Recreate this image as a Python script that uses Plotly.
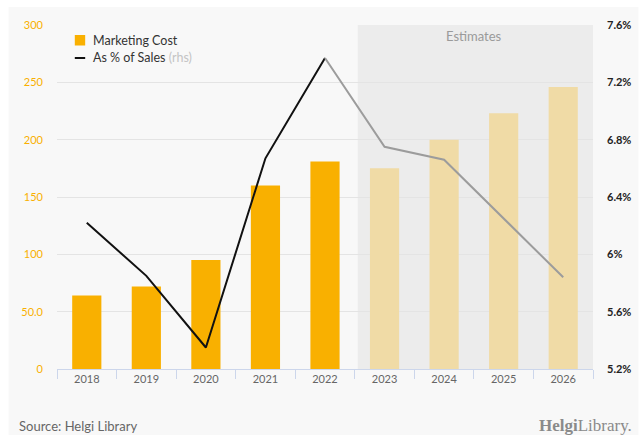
import plotly.graph_objects as go

# Marketing cost (lhs) and cost as % of sales (rhs), actuals 2018-2022, estimates 2023-2026
years = ["2018", "2019", "2020", "2021", "2022", "2023", "2024", "2025", "2026"]
marketing_cost = [64, 72, 95, 160, 181, 175, 200, 223, 246]
pct_of_sales = [6.22, 5.85, 5.35, 6.67, 7.37, 6.75, 6.66, 6.25, 5.84]
n_actual = 5

left_ticks = [0, 50, 100, 150, 200, 250, 300]
left_ticktext = ["0", "50.0", "100", "150", "200", "250", "300"]
right_ticks = [5.2, 5.6, 6.0, 6.4, 6.8, 7.2, 7.6]
right_ticktext = ["5.2%", "5.6%", "6%", "6.4%", "6.8%", "7.2%", "7.6%"]

ORANGE = "#f9b000"
PALE = "#f0dba6"
FONT = "Lato"

fig = go.Figure()

fig.add_trace(go.Bar(
    x=years[:n_actual], y=marketing_cost[:n_actual],
    marker=dict(color=ORANGE, line=dict(width=0)), width=0.49,
    showlegend=False, hoverinfo="skip"))
fig.add_trace(go.Bar(
    x=years[n_actual:], y=marketing_cost[n_actual:],
    marker=dict(color=PALE, line=dict(width=0)), width=0.49,
    showlegend=False, hoverinfo="skip"))

fig.add_trace(go.Scatter(
    x=years[:n_actual], y=pct_of_sales[:n_actual], yaxis="y2",
    mode="lines", line=dict(color="#111111", width=2),
    showlegend=False, hoverinfo="skip"))
fig.add_trace(go.Scatter(
    x=years[n_actual - 1:], y=pct_of_sales[n_actual - 1:], yaxis="y2",
    mode="lines", line=dict(color="#9c9c9c", width=2),
    showlegend=False, hoverinfo="skip"))

W, H = 643, 435
L, R, T, B = 57, 44, 25, 66
pw, ph = W - L - R, H - T - B


def px(x):
    return (x - L) / pw


def py(y):
    return (H - B - y) / ph


shapes = [
    # light panel behind the whole chart
    dict(type="rect", xref="paper", yref="paper", layer="below",
         x0=px(8), x1=px(W + 2), y0=py(H + 2), y1=py(7),
         fillcolor="#f8f8f8", line=dict(width=0)),
    # estimates band
    dict(type="rect", xref="x", yref="paper", layer="below",
         x0=n_actual - 0.45, x1=len(years) - 0.5, y0=0, y1=1,
         fillcolor="#ececec", line=dict(width=0)),
    # legend symbols
    dict(type="rect", xref="paper", yref="paper",
         x0=px(75), x1=px(85.5), y0=py(45.5), y1=py(35),
         fillcolor=ORANGE, line=dict(width=0)),
    dict(type="line", xref="paper", yref="paper",
         x0=px(75), x1=px(85.5), y0=py(58), y1=py(58),
         line=dict(color="#111111", width=2)),
]

annotations = [
    dict(text="Marketing Cost", xref="paper", yref="paper", x=px(91), y=py(40.5),
         xanchor="left", yanchor="middle", showarrow=False,
         font=dict(family=FONT, size=12.5, color="#333333")),
    dict(text="As % of Sales <span style='color:#c4c4c4'>(rhs)</span>",
         xref="paper", yref="paper", x=px(91), y=py(58),
         xanchor="left", yanchor="middle", showarrow=False,
         font=dict(family=FONT, size=12.5, color="#333333")),
    dict(text="Estimates", xref="x", yref="paper", x=6.5, y=py(36),
         xanchor="center", yanchor="middle", showarrow=False,
         font=dict(family=FONT, size=13, color="#9a9a9a")),
    dict(text="Source: Helgi Library", xref="paper", yref="paper", x=px(17), y=py(426),
         xanchor="left", yanchor="middle", showarrow=False,
         font=dict(family=FONT, size=13, color="#666666")),
    dict(text="<b>Helgi</b>Library.", xref="paper", yref="paper", x=px(640), y=py(425),
         xanchor="right", yanchor="middle", showarrow=False,
         font=dict(family="Liberation Serif", size=17, color="#8a8a8a")),
]

fig.update_layout(
    width=W, height=H,
    margin=dict(l=L, r=R, t=T, b=B, pad=0),
    paper_bgcolor="white", plot_bgcolor="rgba(0,0,0,0)",
    barmode="overlay", bargap=0.5,
    showlegend=False,
    shapes=shapes, annotations=annotations,
    xaxis=dict(
        type="category", categoryorder="array", categoryarray=years,
        range=[-0.5, len(years) - 0.5],
        showline=True, linecolor="#ccd6eb", linewidth=1,
        ticks="outside", tickson="boundaries", ticklen=9, tickcolor="#ccd6eb",
        showgrid=False, zeroline=False,
        tickfont=dict(family=FONT, size=11, color="#666666"),
    ),
    yaxis=dict(
        range=[0, 300], tickvals=left_ticks, ticktext=left_ticktext,
        showgrid=True, gridcolor="#e4e4e4", gridwidth=1, zeroline=False,
        ticks="", ticklabelstandoff=13,
        tickfont=dict(family=FONT, size=11, color="#f9b000"),
    ),
    yaxis2=dict(
        range=[5.2, 7.6], tickvals=right_ticks, ticktext=right_ticktext,
        overlaying="y", side="right", showgrid=False, zeroline=False,
        ticks="", ticklabelstandoff=13,
        tickfont=dict(family=FONT, size=11, color="#222222", weight="bold"),
    ),
)

fig.write_html("out.html")
